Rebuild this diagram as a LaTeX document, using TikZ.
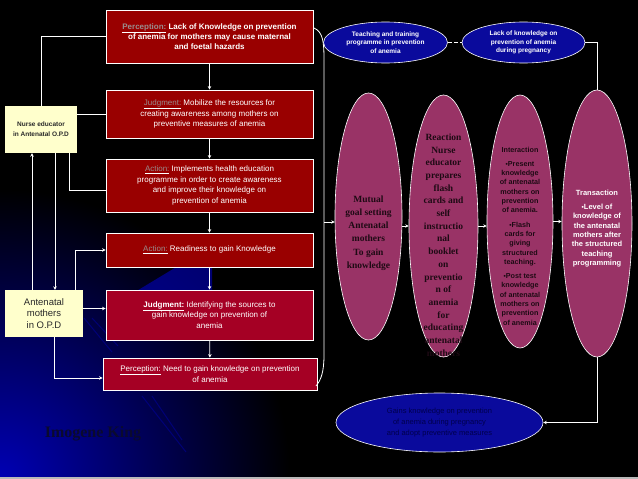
\documentclass[tikz,border=0pt]{standalone}
\usepackage{fontspec}
\setmainfont{Liberation Sans}
\newfontfamily\tnr{Liberation Serif}
\usetikzlibrary{shapes.geometric,arrows.meta,calc}
\definecolor{boxred}{HTML}{990000}
\definecolor{boxcrim}{HTML}{A50024}
\definecolor{magell}{HTML}{993366}
\definecolor{blueell}{HTML}{0A0A9C}
\definecolor{cream}{HTML}{FFFFCC}
\definecolor{lblc}{HTML}{2A2A2A}
\definecolor{lblg}{HTML}{9A8C8C}
\definecolor{dtext}{HTML}{1E0A14}
\definecolor{bgblue}{HTML}{0000B4}
\definecolor{kingc}{HTML}{0A0A2E}
\newcommand\lbl[1]{\underline{\textcolor{lblg}{#1}}}
\newcommand\bul{{\fontsize{6.5}{6}\selectfont\textbullet}}

\begin{document}
\begin{tikzpicture}[x=1pt,y=-1pt,
    wline/.style={draw=white,line width=0.8pt},
    warr/.style={wline,-{Stealth[length=3.5pt,width=3.5pt]}},
    redbox/.style={draw=white,fill=boxred,line width=0.8pt,minimum width=207pt,inner sep=1pt,align=center,text=white,font=\fontsize{8}{10.6}\selectfont},
    crimbox/.style={redbox,fill=boxcrim},
    creambox/.style={draw=none,fill=cream,inner sep=1pt,align=center,text=lblc},
    bigell/.style={ellipse,draw=white,fill=magell,line width=0.6pt,inner sep=0pt},
    topell/.style={ellipse,draw=white,fill=blueell,line width=0.6pt,inner sep=0pt,align=center},
    elltxt/.style={align=center,inner sep=0pt},
    streak/.style={draw=blue!70!black,opacity=.45,line width=1pt}]

    % background
    \fill[black] (0,0) rectangle (638,479);
    \begin{scope}
    \clip (0,0) rectangle (638,479);
    \shade[inner color=bgblue,outer color=black] (0,479) circle (290pt);
    \end{scope}
    \fill[gray!55] (0,476.5) rectangle (638,479);
    \fill[blue!75!black,opacity=.6] (135,292) -- (178,266) -- (212,266) -- (212,292) -- cycle;
    \draw[streak] (84,318) -- (112,352);
    \draw[streak] (92,318) -- (118,346);
    \draw[streak] (142,396) -- (186,452);
    \draw[streak] (152,396) -- (182,440);

    % boxes on the left
    \node[redbox,minimum height=53pt,font=\bfseries\fontsize{8}{10}\selectfont] (perc) at (209.5,36.5)
        {\lbl{Perception:} Lack of Knowledge on prevention\\of anemia for mothers may cause maternal\\and foetal hazards};
    \node[redbox,minimum height=48pt] (judg) at (209.5,114)
        {\lbl{Judgment:} Mobilize the resources for\\creating awareness among mothers on\\preventive measures of anemia};
    \node[redbox,minimum height=53pt] (act) at (209.5,185.5)
        {\lbl{Action:} Implements health education\\programme in order to create awareness\\and improve their knowledge on\\prevention of anemia};
    \node[redbox,minimum height=34pt] (ready) at (209.5,250)
        {\lbl{Action:} Readiness to gain Knowledge};
    \node[crimbox,minimum height=50pt] (ident) at (209.5,315)
        {\underline{\textbf{Judgment:}} Identifying the sources to\\gain knowledge on prevention of\\anemia};
    \node[crimbox,minimum width=214pt,minimum height=32pt] (need) at (210,374)
        {\underline{Perception:} Need to gain knowledge on prevention\\of anemia};
    \draw[warr] (perc) -- (judg);
    \draw[warr] (judg) -- (act);
    \draw[warr] (act) -- (ready);
    \draw[warr] (ready) -- (ident);
    \draw[warr] (ident) -- (need);

    % nurse and mothers
    \node[creambox,minimum width=72pt,minimum height=47pt,font=\bfseries\fontsize{6.5}{10}\selectfont] (nurse) at (41,129.5)
        {Nurse educator\\in Antenatal O.P.D};
    \node[creambox,minimum width=78pt,minimum height=47pt,font=\fontsize{9.5}{11.7}\selectfont] (moth) at (44,313.5)
        {Antenatal\\mothers\\in O.P.D};
    \draw[wline] (nurse.north) |- (perc.west);
    \draw[wline] (nurse.east |- judg.west) -- (judg.west);
    \draw[wline] ([xshift=28pt]nurse.south) |- ([yshift=-5pt]act.west);
    \draw[warr] ([xshift=14pt]nurse.south) -- ([xshift=11pt]moth.north);
    \draw[warr] ([xshift=-12pt]moth.north) -- ([xshift=-9pt]nurse.south);
    \draw[warr] ([xshift=31pt]moth.north) |- (ready.west);
    \draw[warr] ([yshift=5pt]moth.east) -- ([yshift=5pt]moth.east -| ident.west);
    \draw[warr] ([xshift=10pt]moth.south) |- ([yshift=-4pt]need.west);

    % brace round the boxes
    \coordinate (bt) at (314,28);
    \coordinate (bm) at (324,222);
    \coordinate (bb) at (316,386);
    \draw[wline] (bt) .. controls (323,32) and (324,42) .. (324,60) -- (324,355)
        .. controls (324,372) and (321,380) .. (bb);

    % top ellipses
    \node[topell,minimum width=124pt,minimum height=41pt,text=white,font=\bfseries\fontsize{6.5}{8.3}\selectfont] (teach) at (385.5,42.5)
        {Teaching and training\\programme in prevention\\of anemia};
    \node[topell,minimum width=123pt,minimum height=41pt,text=white,font=\bfseries\fontsize{6.5}{8.3}\selectfont] (lack) at (523.5,42.5)
        {Lack of knowledge on\\prevention of anemia\\during pregnancy};
    \draw[wline,dash pattern=on 4pt off 2pt] (teach) -- (lack);

    % big ellipses
    \node[bigell,minimum width=67pt,minimum height=247pt] (mutual) at (368.5,216.5) {};
    \node[bigell,minimum width=69pt,minimum height=262pt] (reac) at (443.5,226) {};
    \node[bigell,minimum width=66pt,minimum height=253pt] (inter) at (520,221.5) {};
    \node[bigell,minimum width=70pt,minimum height=267pt] (trans) at (597,223.5) {};
    \node[elltxt,text=dtext,font=\tnr\bfseries\fontsize{9.5}{13.2}\selectfont] (mutualtxt) at (368.5,233)
        {Mutual\\goal setting\\Antenatal\\mothers\\To gain\\knowledge};
    \node[elltxt,text=dtext,font=\tnr\bfseries\fontsize{9.5}{12.7}\selectfont] (reactxt) at (443.5,245)
        {Reaction\\Nurse\\educator\\prepares\\flash\\cards and\\self\\instructio\\nal\\booklet\\on\\preventio\\n of\\anemia\\for\\educating\\antenatal\\mothers};
    \node[elltxt,text=dtext,font=\bfseries\fontsize{7.2}{9.3}\selectfont] (intertxt) at (520,236)
        {Interaction\\[5pt]\bul Present\\knowledge\\of antenatal\\mothers on\\prevention\\of anemia.\\[5pt]\bul Flash\\cards for\\giving\\structured\\teaching.\\[5pt]\bul Post test\\knowledge\\of antenatal\\mothers on\\prevention\\of anemia};
    \node[elltxt,text=white,font=\bfseries\fontsize{7.5}{9.3}\selectfont] (transtxt) at (597,228.5)
        {Transaction\\[5pt]\bul Level of\\knowledge of\\the antenatal\\mothers after\\the structured\\teaching\\programming};
    \draw[warr] (bm) -- (bm -| mutual.west);
    \draw[warr] (reac.west -| mutual.east) -- (reac.west);
    \draw[warr] (reac.east) -- (reac.east -| inter.west);
    \draw[warr] (inter.east) -- (inter.east -| trans.west);
    \draw[wline] (lack.east) -| (trans.north);

    % outcome
    \node[topell,minimum width=207pt,minimum height=59pt,text=blue!30!black,font=\fontsize{7.5}{11}\selectfont] (goal) at (439.5,422.5)
        {Gains knowledge on prevention\\of anemia during pregnancy\\and adopt preventive measures};
    \draw[warr] (trans.south) |- (goal.east);

    \node[text=kingc,font=\tnr\bfseries\fontsize{16}{16}\selectfont] (king) at (93,434) {Imogene King};
\end{tikzpicture}
\end{document}
